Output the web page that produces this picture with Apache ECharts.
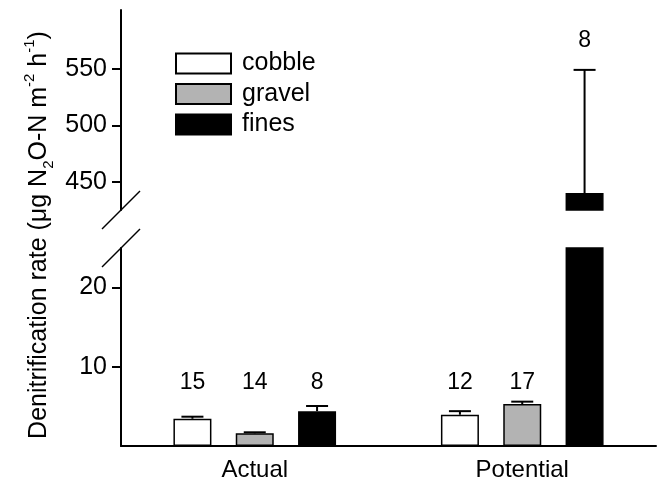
<!DOCTYPE html>
<html><head><meta charset="utf-8">
<script src="https://cdn.jsdelivr.net/npm/echarts@6/dist/echarts.min.js"></script>
<style>html,body{margin:0;padding:0;background:#fff}#c{width:662px;height:482px}</style>
</head><body><div id="c"></div>
<script>
// ---- data ----
const categories = ['Actual', 'Potential'];
const seriesNames = ['cobble', 'gravel', 'fines'];
const cobbleMean = [3.44, 3.95];
const gravelMean = [1.6, 5.3];
const finesMean = [4.4, 440];
const cobbleErrTop = [3.7, 4.4];
const gravelErrTop = [1.73, 5.6];
const finesErrTop = [5.05, 549];
const cobbleN = [15, 12];
const gravelN = [14, 17];
const finesN = [8, 8];
const lowerTicks = [10, 20];
const upperTicks = [450, 500, 550];
const lowerRange = [0, 25];
const upperRange = [425, 602];

// ---- style ----
const FONT = '"Liberation Sans", Arial, Helvetica, sans-serif';
const fills = ['#ffffff', '#b3b3b3', '#000000'];
const BAR_W = 38, BAR_GAP = 0.64;
const CAP = 22;
const LABEL_LEVEL = 8;      // lower panel: n labels drawn at this axis height
const UPPER_LABEL_DY = 29;  // upper panel: n label pixels above error bar
const GRID_L = 121, GRID_R = 6;
const LOW_TOP = 248, LOW_H = 198.5;
const UP_TOP = 10, UP_H = 200;

const means = [cobbleMean, gravelMean, finesMean];
const errs = [cobbleErrTop, gravelErrTop, finesErrTop];
const ns = [cobbleN, gravelN, finesN];

function inLower(v) { return v <= lowerRange[1]; }

const barSeries = [];
seriesNames.forEach((name, s) => {
  const style = {color: fills[s], borderColor: '#000', borderWidth: 1.5};
  barSeries.push({
    name, type: 'bar', xAxisIndex: 0, yAxisIndex: 0,
    barWidth: BAR_W, barGap: (BAR_GAP * 100) + '%',
    itemStyle: style, data: means[s].slice(), clip: true, silent: true
  });
  barSeries.push({
    name, type: 'bar', xAxisIndex: 1, yAxisIndex: 1,
    barWidth: BAR_W, barGap: (BAR_GAP * 100) + '%',
    itemStyle: style, data: means[s].map(v => inLower(v) ? '-' : v), clip: true, silent: true
  });
});

const lowerErr = [], upperErr = [];
seriesNames.forEach((name, s) => {
  categories.forEach((c, i) => {
    const item = [i, s, means[s][i], errs[s][i], ns[s][i]];
    (inLower(means[s][i]) ? lowerErr : upperErr).push(item);
  });
});

function makeRender(isUpper) {
  return function (params, api) {
    const cat = api.value(0), s = api.value(1);
    const off = (s - 1) * BAR_W * (1 + BAR_GAP);
    const x = api.coord([cat, api.value(2)])[0] + off;
    const yTop = api.coord([cat, api.value(2)])[1];
    const yErr = api.coord([cat, api.value(3)])[1];
    const yLab = isUpper ? yErr - UPPER_LABEL_DY : api.coord([cat, LABEL_LEVEL])[1];
    const ls = {stroke: '#000', lineWidth: 2};
    return {type: 'group', children: [
      {type: 'line', shape: {x1: x, y1: yTop, x2: x, y2: yErr}, style: ls},
      {type: 'line', shape: {x1: x - CAP / 2, y1: yErr, x2: x + CAP / 2, y2: yErr}, style: ls},
      {type: 'text', style: {x: x, y: yLab, text: String(api.value(4)), fill: '#000',
        font: '23px ' + FONT, align: 'center', verticalAlign: 'middle'}}
    ]};
  };
}

const tickStyle = {show: true, inside: false, length: 9, lineStyle: {color: '#000', width: 2}};
const labelStyle = {color: '#000', fontSize: 25, fontFamily: FONT, margin: 14};

const option = {
  animation: false,
  backgroundColor: '#fff',
  grid: [
    {left: GRID_L, right: GRID_R, top: LOW_TOP, height: LOW_H},
    {left: GRID_L, right: GRID_R, top: UP_TOP, height: UP_H}
  ],
  xAxis: [
    {type: 'category', gridIndex: 0, data: categories, boundaryGap: true,
     axisLine: {lineStyle: {color: '#000', width: 2}}, axisTick: {show: false},
     axisLabel: {color: '#000', fontSize: 24, fontFamily: FONT, margin: 12}},
    {type: 'category', gridIndex: 1, data: categories, boundaryGap: true, show: false}
  ],
  yAxis: [
    {type: 'value', gridIndex: 0, min: lowerRange[0], max: lowerRange[1],
     axisLine: {show: true, lineStyle: {color: '#000', width: 2}},
     axisTick: Object.assign({customValues: lowerTicks}, tickStyle),
     axisLabel: Object.assign({customValues: lowerTicks}, labelStyle),
     splitLine: {show: false}},
    {type: 'value', gridIndex: 1, min: upperRange[0], max: upperRange[1],
     axisLine: {show: true, lineStyle: {color: '#000', width: 2}},
     axisTick: Object.assign({customValues: upperTicks}, tickStyle),
     axisLabel: Object.assign({customValues: upperTicks}, labelStyle),
     splitLine: {show: false}}
  ],
  legend: {
    data: seriesNames, orient: 'vertical', left: 170, top: 46,
    icon: 'rect', itemWidth: 55, itemHeight: 20, itemGap: 5.5,
    selectedMode: false,
    textStyle: {color: '#000', fontSize: 25, fontFamily: FONT, padding: [0, 0, 0, 6]}
  },
  series: barSeries.concat([
    {type: 'custom', xAxisIndex: 0, yAxisIndex: 0, data: lowerErr, renderItem: makeRender(false), silent: true, z: 5},
    {type: 'custom', xAxisIndex: 1, yAxisIndex: 1, data: upperErr, renderItem: makeRender(true), silent: true, z: 5, clip: false}
  ]),
  graphic: [
    {type: 'line', shape: {x1: GRID_L - 19, y1: UP_TOP + UP_H + 19, x2: GRID_L + 19, y2: UP_TOP + UP_H - 19},
     style: {stroke: '#000', lineWidth: 1.5}},
    {type: 'line', shape: {x1: GRID_L - 19, y1: LOW_TOP + 19, x2: GRID_L + 19, y2: LOW_TOP - 19},
     style: {stroke: '#000', lineWidth: 1.5}},
    {type: 'text', x: 39, y: 235, rotation: Math.PI / 2,
     style: {
       text: 'Denitrification rate (μg N{sub|2}O-N m{sup|-2} h{sup|-1})',
       font: '25px ' + FONT, fill: '#000', align: 'center', verticalAlign: 'middle',
       lineHeight: 34,
       rich: {
         sub: {fontSize: 15, fontFamily: FONT, fill: '#000', verticalAlign: 'bottom', lineHeight: 15},
         sup: {fontSize: 15, fontFamily: FONT, fill: '#000', verticalAlign: 'top', lineHeight: 15}
       }
     }}
  ]
};

const chart = echarts.init(document.getElementById('c'), null, {renderer: 'canvas'});
chart.setOption(option);
</script>
</body></html>
